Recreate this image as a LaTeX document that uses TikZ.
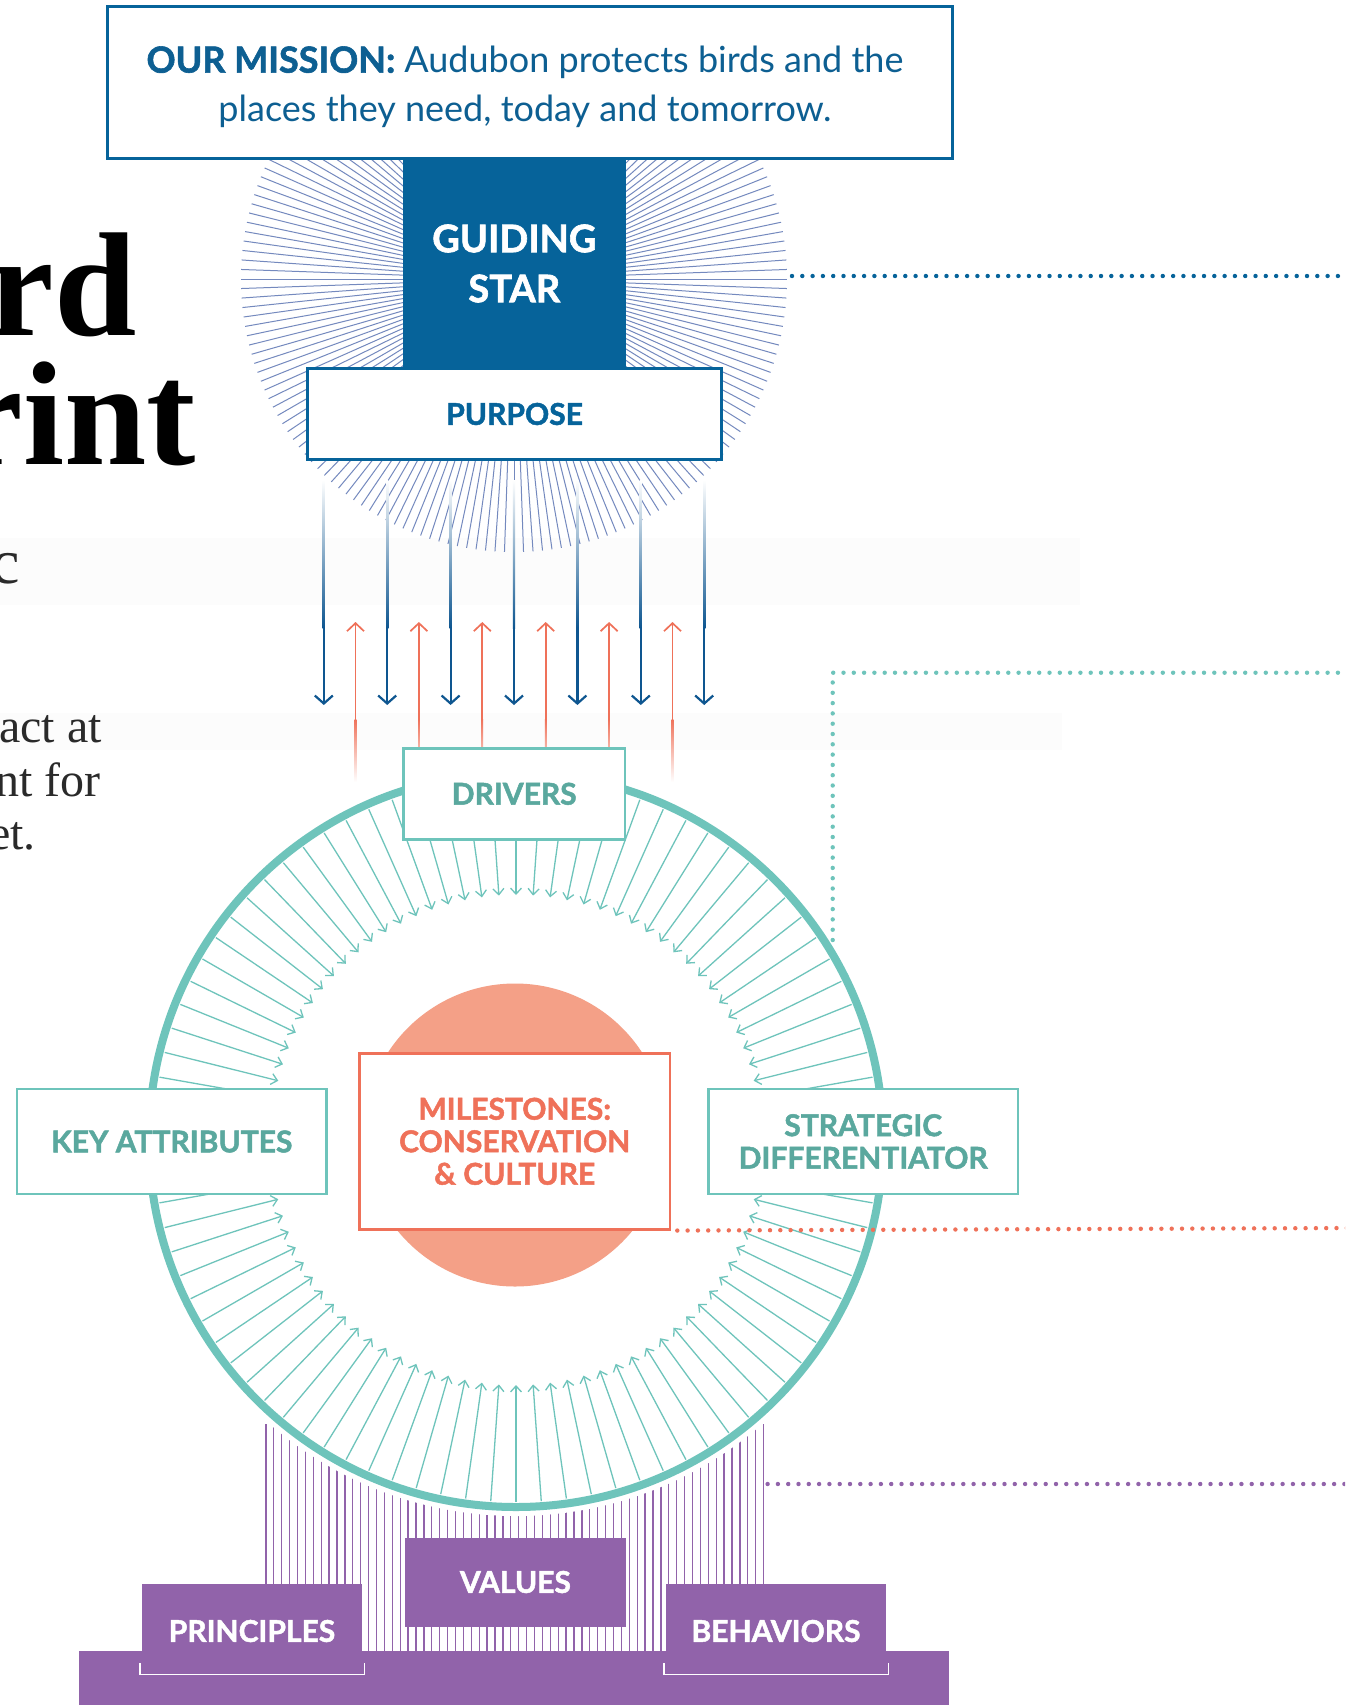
\documentclass[tikz,border=0pt]{standalone}
\usepackage{fontspec}
\setmainfont{Lato}
\newfontfamily\labfont{Lato}[BoldFeatures={FakeBold=1.6}]
\newfontfamily\serifhead{Liberation Serif}
\usetikzlibrary{arrows.meta}
\definecolor{mblue}{HTML}{06639A}
\definecolor{mtext}{HTML}{0D5F92}
\definecolor{darr}{HTML}{0E5690}
\definecolor{rayblue}{HTML}{7489BE}
\definecolor{tealc}{HTML}{6EC4BB}
\definecolor{tealt}{HTML}{5AA89E}
\definecolor{coral}{HTML}{EF7159}
\definecolor{salmon}{HTML}{F4A087}
\definecolor{purp}{HTML}{9163AA}
\definecolor{bodyc}{HTML}{2A2A2A}
\newcommand{\lab}{\labfont\bfseries\fontsize{30}{32.5}\selectfont}
\tikzset{
  ray/.style={rayblue, line width=1pt},
  tarr/.style={tealc, line width=1.3pt, -{Straight Barb[length=6pt,width=11pt]}},
  tbox/.style={draw=tealc, line width=2.5pt, fill=white, inner sep=0pt, text=tealt, font=\lab, align=center},
  pbox/.style={fill=purp, inner sep=0pt, text=white, font=\lab, align=center},
  dots/.style={line width=4.4pt, line cap=round, dash pattern=on 0pt off 10.3pt},
  bodytext/.style={anchor=base east, text=bodyc, inner sep=0pt, font=\serifhead\fontsize{48}{53}\selectfont},
  headtext/.style={anchor=base east, text=black, inner sep=0pt, text height=100pt, text depth=0pt, font=\serifhead\bfseries\fontsize{148}{148}\selectfont},
}
\begin{document}
\begin{tikzpicture}[x=1pt,y=-1pt]
\useasboundingbox (0,0) rectangle (1345,1705);
\clip (0,0) rectangle (1345,1705);
\fill[white] (0,0) rectangle (1345,1705);
% faint bands
\fill[black!1] (0,538) rectangle (1080,605);
\fill[black!1] (0,713) rectangle (1062,750);
% left text
\node[headtext] (t1) at (137,335) {rd};
\node[headtext] (t2) at (196,464) {rint};
\node[anchor=base east, inner sep=0pt, text=bodyc, font=\serifhead\fontsize{64}{64}\selectfont] (b0) at (20,583) {c};
\node[bodytext] (b1) at (102,742) {act at};
\node[bodytext] (b2) at (101,796) {nt for};
\node[bodytext] (b3) at (36,849) {et.};
% sunburst
\foreach \a in {0,2,...,358}
  \draw[ray] ([shift={(\a:70pt)}]514,279) -- ([shift={(\a:273pt)}]514,279);
% blue down arrows
\foreach \x in {323.8,387.2,450.6,514,577.4,640.8,704.2}{
  \shade[top color=white, bottom color=darr] (\x-1.1,480) rectangle (\x+1.1,628);
  \draw[darr, line width=2.2pt, -{Straight Barb[length=8pt,width=18pt]}] (\x,627) -- (\x,705);
}
% coral up arrows
\foreach \x in {355.5,418.9,482.3,545.7,609.1,672.5}{
  \shade[top color=coral, bottom color=white] (\x-0.85,719) rectangle (\x+0.85,782);
  \draw[coral, line width=1.7pt, {Straight Barb[length=8pt,width=17pt]}-] (\x,622) -- (\x,720);
}
% purple lines
\foreach \i in {0,...,63}
  \draw[purp, line width=1.3pt] ({265.9+7.9*\i},1424) -- ({265.9+7.9*\i},1652);
\fill[white] (516,1140) circle[radius=376pt];
% teal wheel
\foreach \a in {2,6,...,358}
  \draw[tarr] ([shift={(\a:362pt)}]516,1140) -- ([shift={(\a:245pt)}]516,1140);
\draw[tealc, line width=8pt] (516,1140) circle[radius=367pt];
% salmon disk
\fill[salmon] (515,1135) circle[radius=151.5pt];
% top boxes
\node[draw=mblue, line width=3pt, fill=white, minimum width=845pt, minimum height=152pt, inner sep=0pt] (mission) at (529.5,82) {};
\node[text=mtext, align=center, inner sep=0pt, font=\labfont\fontsize{36}{49}\selectfont] (missiontext) at (525,87) {\textbf{OUR MISSION:} Audubon protects birds and the\\places they need, today and tomorrow.};
\node[fill=mblue, minimum width=222.7pt, minimum height=211pt, inner sep=0pt, text=white, align=center, font=\labfont\bfseries\fontsize{38}{50}\selectfont] (star) at (514.3,263.5) {GUIDING\\STAR};
\node[draw=mblue, line width=2.5pt, fill=white, minimum width=414pt, minimum height=90.6pt, inner sep=0pt, text=mblue, font=\labfont\bfseries\fontsize{30}{33}\selectfont] (purpose) at (514.6,414) {PURPOSE};
% wheel boxes
\node[tbox, minimum width=221.7pt, minimum height=91pt] (drivers) at (514.2,793.8) {DRIVERS};
\node[tbox, minimum width=309.7pt, minimum height=105pt] (keyattr) at (171.8,1141.5) {KEY ATTRIBUTES};
\node[tbox, minimum width=309.6pt, minimum height=105pt] (strat) at (863.2,1141.5) {STRATEGIC\\DIFFERENTIATOR};
\node[draw=coral, line width=2.5pt, fill=white, minimum width=310.7pt, minimum height=176pt, inner sep=0pt, text=coral, font=\lab, align=center] (miles) at (514.7,1141.3) {MILESTONES:\\CONSERVATION\\\& CULTURE};
% purple base
\node[fill=purp, minimum width=870.4pt, minimum height=60pt, inner sep=0pt] (base) at (514.2,1681) {};
\node[pbox, minimum width=221pt, minimum height=89pt] (values) at (515.4,1582) {VALUES};
\node[pbox, minimum width=219.6pt, minimum height=67pt] (princ) at (252.2,1617.7) {};
\node[pbox, minimum width=220.5pt, minimum height=67pt] (behav) at (775.8,1617.7) {};
\node[text=white, font=\lab] (princt) at (252,1631) {PRINCIPLES};
\node[text=white, font=\lab] (behavt) at (776,1631) {BEHAVIORS};
\draw[white, line width=1.8pt] (140,1663) -- (140,1674.5) -- (364.5,1674.5) -- (364.5,1663);
\draw[white, line width=1.8pt] (664,1663) -- (664,1674.5) -- (888.5,1674.5) -- (888.5,1663);
% dotted leaders
\coordinate (sunE) at (792,276);
\coordinate (sunR) at (1350,276);
\draw[dots, mblue] (sunE) -- (sunR);
\coordinate (wheelNE) at (832.7,940);
\coordinate (wheelR) at (1350,672.7);
\draw[dots, tealc] (wheelNE) |- (wheelR);
\coordinate (milesR) at (1350,1228);
\draw[dots, coral] ([xshift=6pt]miles.south east) -- (milesR);
\coordinate (valE) at (767.6,1484);
\coordinate (valR) at (1350,1484);
\draw[dots, purp] (valE) -- (valR);
\end{tikzpicture}
\end{document}
